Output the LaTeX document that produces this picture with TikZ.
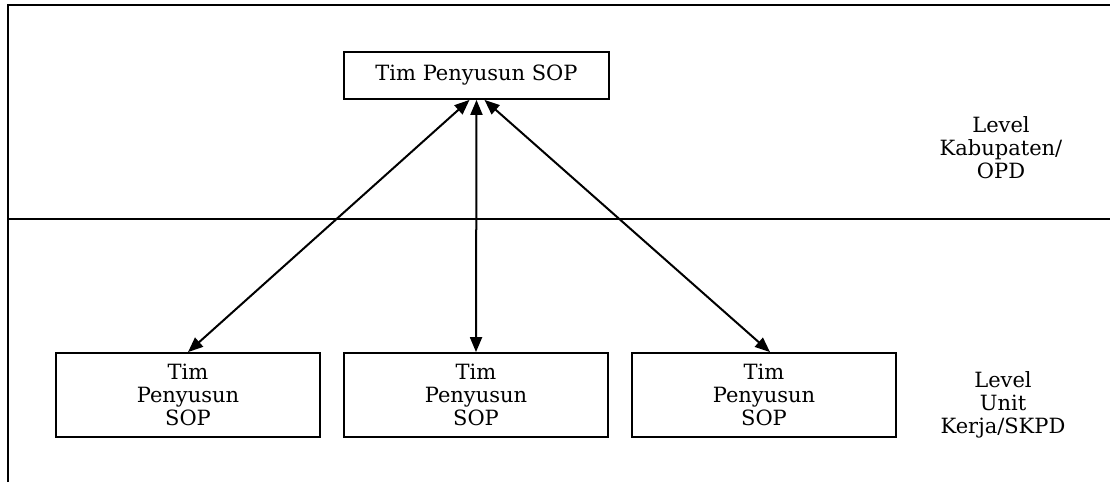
\documentclass[tikz,border=0pt]{standalone}
\usepackage{fontspec}
\setmainfont{DejaVu Serif}
\usetikzlibrary{arrows.meta,positioning}

\begin{document}
\begin{tikzpicture}[x=1pt,y=-1pt,on grid,>={Triangle[length=15pt,width=12pt]},
        tim/.style={draw,line width=1.8pt,align=center,inner sep=0pt,
            font=\fontsize{21}{23}\selectfont},
        lvl/.style={align=center,font=\fontsize{21}{23}\selectfont}]
    \useasboundingbox (0,0) rectangle (1110,482);

    %frame and the line between the two levels
    \draw[line width=2pt] (8,482) -- (8,5) -- (1110,5);
    \draw[line width=2pt] (8,219) -- (1110,219);

    \node[tim,minimum width=265pt,minimum height=47pt] (kab) at (476.5,75.5) {Tim Penyusun SOP};

    \node[tim,minimum width=264pt,minimum height=84pt] (unit1) at (188,395) {Tim\\Penyusun\\SOP};
    \node[tim,minimum width=264pt,minimum height=84pt,right=288pt of unit1] (unit2) {Tim\\Penyusun\\SOP};
    \node[tim,minimum width=264pt,minimum height=84pt,right=288pt of unit2] (unit3) {Tim\\Penyusun\\SOP};

    \node[lvl] (lvlkab) at (1001,148) {Level\\Kabupaten/\\OPD};
    \node[lvl] (lvlunit) at (1003,405) {Level\\Unit\\Kerja/SKPD};

    %two-way links
    \draw[<->,line width=2pt] ([xshift=-7pt]kab.south) -- (unit1.north);
    \draw[<->,line width=2pt] (kab.south) -- (unit2.north);
    \draw[<->,line width=2pt] ([xshift=8pt]kab.south) -- ([xshift=6pt]unit3.north);
\end{tikzpicture}
\end{document}
